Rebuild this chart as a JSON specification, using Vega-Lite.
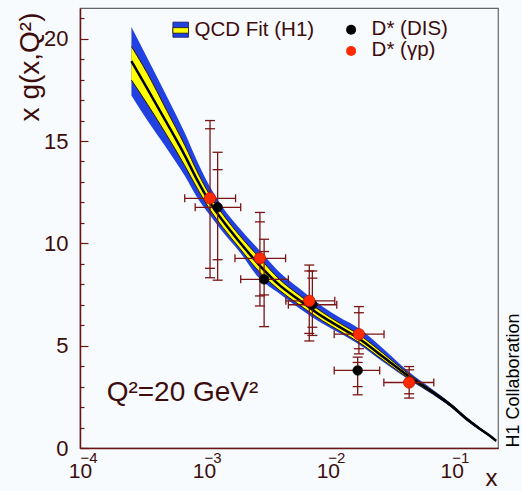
{
  "$schema": "https://vega.github.io/schema/vega-lite/v6.json",
  "width": 418,
  "height": 440,
  "autosize": {"type": "none"},
  "padding": {"left": 80, "top": 8, "right": 24, "bottom": 43},
  "background": "#f7fbfe",
  "config": {"view": {"stroke": "#666666", "strokeWidth": 1.2}, "font": "Liberation Sans"},
  "datasets": {
    "band": [
      {"x": 0.00026, "c": 18.9, "ylo": 17.98, "yhi": 19.62, "blo": 17.23, "bhi": 20.57},
      {"x": 0.00035, "c": 17.55, "ylo": 16.8, "yhi": 18.3, "blo": 16.0, "bhi": 19.05},
      {"x": 0.0005, "c": 15.9, "ylo": 15.3, "yhi": 16.5, "blo": 14.65, "bhi": 17.2},
      {"x": 0.0007, "c": 14.3, "ylo": 13.8, "yhi": 14.8, "blo": 13.3, "bhi": 15.4},
      {"x": 0.0009, "c": 13.0, "ylo": 12.6, "yhi": 13.4, "blo": 12.15, "bhi": 13.9},
      {"x": 0.00111, "c": 12.03, "ylo": 11.68, "yhi": 12.38, "blo": 11.4, "bhi": 12.8},
      {"x": 0.00142, "c": 11.1, "ylo": 10.78, "yhi": 11.42, "blo": 10.55, "bhi": 11.75},
      {"x": 0.00193, "c": 10.08, "ylo": 9.78, "yhi": 10.4, "blo": 9.6, "bhi": 10.75},
      {"x": 0.0028, "c": 8.94, "ylo": 8.61, "yhi": 9.3, "blo": 8.29, "bhi": 9.67},
      {"x": 0.00405, "c": 7.97, "ylo": 7.72, "yhi": 8.25, "blo": 7.55, "bhi": 8.6},
      {"x": 0.00587, "c": 7.23, "ylo": 7.0, "yhi": 7.47, "blo": 6.83, "bhi": 7.8},
      {"x": 0.00904, "c": 6.42, "ylo": 6.22, "yhi": 6.63, "blo": 6.08, "bhi": 6.92},
      {"x": 0.0123, "c": 5.93, "ylo": 5.74, "yhi": 6.12, "blo": 5.63, "bhi": 6.4},
      {"x": 0.018, "c": 5.33, "ylo": 5.14, "yhi": 5.52, "blo": 5.05, "bhi": 5.83},
      {"x": 0.028, "c": 4.45, "ylo": 4.29, "yhi": 4.62, "blo": 4.2, "bhi": 4.85},
      {"x": 0.045, "c": 3.5, "ylo": 3.39, "yhi": 3.61, "blo": 3.33, "bhi": 3.72},
      {"x": 0.07, "c": 2.73, "ylo": 2.66, "yhi": 2.8, "blo": 2.61, "bhi": 2.86},
      {"x": 0.1, "c": 2.05, "ylo": 1.99, "yhi": 2.11, "blo": 1.95, "bhi": 2.15},
      {"x": 0.13, "c": 1.45, "ylo": 1.4, "yhi": 1.5, "blo": 1.36, "bhi": 1.54},
      {"x": 0.17, "c": 0.92, "ylo": 0.88, "yhi": 0.96, "blo": 0.85, "bhi": 0.99},
      {"x": 0.2, "c": 0.62, "ylo": 0.59, "yhi": 0.65, "blo": 0.56, "bhi": 0.68},
      {"x": 0.228, "c": 0.35, "ylo": 0.32, "yhi": 0.38, "blo": 0.3, "bhi": 0.4}
    ],
    "pts": [
      {"s": "gp", "x": 0.00112, "y": 12.2, "xlo": 0.0007, "xhi": 0.0018, "tlo": 8.32, "thi": 16.0, "slo": 8.78, "shi": 15.6},
      {"s": "dis", "x": 0.00129, "y": 11.76, "xlo": 0.00085, "xhi": 0.00198, "tlo": 8.2, "thi": 14.45, "slo": 9.2, "shi": 13.6},
      {"s": "gp", "x": 0.00283, "y": 9.27, "xlo": 0.00178, "xhi": 0.00456, "tlo": 6.94, "thi": 11.51, "slo": 7.43, "shi": 11.05},
      {"s": "dis", "x": 0.00306, "y": 8.24, "xlo": 0.00198, "xhi": 0.0048, "tlo": 5.93, "thi": 10.2, "slo": 7.48, "shi": 9.6},
      {"s": "dis", "x": 0.0075, "y": 7.0, "xlo": 0.0048, "xhi": 0.0118, "tlo": 5.5, "thi": 8.65, "slo": 5.9, "shi": 8.3},
      {"s": "gp", "x": 0.00708, "y": 7.19, "xlo": 0.00458, "xhi": 0.01137, "tlo": 5.23, "thi": 8.94, "slo": 5.6, "shi": 8.65},
      {"s": "dis", "x": 0.0174, "y": 3.79, "xlo": 0.01125, "xhi": 0.0262, "tlo": 2.6, "thi": 4.44, "slo": 3.0, "shi": 4.18},
      {"s": "gp", "x": 0.0178, "y": 5.56, "xlo": 0.01125, "xhi": 0.0284, "tlo": 4.6, "thi": 6.91, "slo": 4.85, "shi": 6.61},
      {"s": "gp", "x": 0.0453, "y": 3.2, "xlo": 0.0283, "xhi": 0.0716, "tlo": 2.44, "thi": 3.98, "slo": 2.65, "shi": 3.82}
    ],
    "legbox": [
      {"part": "blue", "x": 0.000562, "x2": 0.000751, "y": 20.07, "y2": 20.81},
      {"part": "yellow", "x": 0.000562, "x2": 0.000751, "y": 20.27, "y2": 20.54}
    ],
    "legpt": [
      {"s": "dis", "x": 0.0154, "y": 20.44},
      {"s": "gp", "x": 0.0154, "y": 19.4}
    ],
    "legtxt": [
      {"x": 0.00084, "y": 20.43, "t": "QCD Fit (H1)"},
      {"x": 0.02254, "y": 20.48, "t": "D* (DIS)"},
      {"x": 0.02254, "y": 19.45, "t": "D* (γp)"}
    ],
    "qtxt": [
      {"x": 0.000164, "y": 2.7, "t": "Q²=20 GeV²"}
    ]
  },
  "resolve": {"axis": {"x": "independent", "y": "independent"}},
  "layer": [
    {
      "data": {"name": "band"},
      "mark": {"type": "area", "color": "#2142e0", "interpolate": "monotone"},
      "encoding": {
        "x": {"field": "x", "type": "quantitative",
          "scale": {"type": "log", "domain": [0.0001, 0.236], "nice": false},
          "axis": {"orient": "bottom", "values": [0.0001, 0.001, 0.01, 0.1], "labelExpr": "'10'",
            "ticks": false, "grid": false, "labelFontSize": 21, "labelColor": "#3d0c0c", "labelPadding": 12,
            "labelBaseline": "top", "labelAlign": "center", "labelFlush": false, "labelOverlap": false,
            "domainColor": "#6b1515", "domainWidth": 1.5,
            "title": "x", "titleFontSize": 24, "titleFontWeight": "normal", "titleColor": "#3d0c0c",
            "titleX": 411, "titleY": 37, "titleAlign": "center", "titleBaseline": "alphabetic"}},
        "y": {"field": "blo", "type": "quantitative",
          "scale": {"domain": [0, 21.5], "nice": false, "zero": false},
          "axis": {"orient": "left", "values": [0, 5, 10, 15, 20], "tickSize": -8, "tickColor": "#6b1515", "tickWidth": 1.2,
            "grid": false, "labelFontSize": 22, "labelColor": "#3d0c0c", "labelPadding": 20, "labelFlush": false,
            "domainColor": "#6b1515", "domainWidth": 1.5,
            "title": "x g(x,Q²)", "titleFontSize": 28, "titleFontWeight": "normal", "titleColor": "#3d0c0c",
            "titleAngle": 270, "titleAlign": "right", "titleBaseline": "alphabetic", "titleX": -42, "titleY": 4}},
        "y2": {"field": "bhi"}
      }
    },
    {
      "data": {"name": "band"},
      "mark": {"type": "area", "color": "#ffff00", "interpolate": "monotone"},
      "encoding": {
        "x": {"field": "x", "type": "quantitative",
          "axis": {"orient": "bottom", "values": [0.0001, 0.001, 0.01, 0.1],
            "labelExpr": "datum.value < 0.0005 ? '−4' : datum.value < 0.005 ? '−3' : datum.value < 0.05 ? '−2' : '−1'",
            "ticks": false, "domain": false, "grid": false, "labelFontSize": 15, "labelColor": "#3d0c0c",
            "labelAlign": "left", "labelDx": 14, "labelPadding": 2, "labelBaseline": "top", "labelFlush": false,
            "labelOverlap": false, "title": null}},
        "y": {"field": "ylo", "type": "quantitative",
          "axis": {"orient": "left", "values": [1, 2, 3, 4, 6, 7, 8, 9, 11, 12, 13, 14, 16, 17, 18, 19, 21],
            "tickSize": -4, "tickColor": "#6b1515", "tickWidth": 1.2, "labels": false, "domain": false,
            "grid": false, "title": null}},
        "y2": {"field": "yhi"}
      }
    },
    {
      "data": {"name": "band"},
      "mark": {"type": "line", "color": "#2a1410", "strokeWidth": 1, "interpolate": "monotone"},
      "encoding": {
        "x": {"field": "x", "type": "quantitative", "axis": null},
        "y": {"field": "ylo", "type": "quantitative", "axis": null}
      }
    },
    {
      "data": {"name": "band"},
      "mark": {"type": "line", "color": "#2a1410", "strokeWidth": 1, "interpolate": "monotone"},
      "encoding": {
        "x": {"field": "x", "type": "quantitative", "axis": null},
        "y": {"field": "yhi", "type": "quantitative", "axis": null}
      }
    },
    {
      "data": {"name": "band"},
      "mark": {"type": "line", "color": "#000000", "strokeWidth": 2.5, "interpolate": "monotone"},
      "encoding": {
        "x": {"field": "x", "type": "quantitative", "axis": null},
        "y": {"field": "c", "type": "quantitative",
          "axis": {"orient": "right", "ticks": false, "labels": false, "domain": false, "grid": false,
            "title": "H1 Collaboration", "titleFontSize": 18, "titleFontWeight": "normal", "titleColor": "#000000",
            "titleAngle": 270, "titleAlign": "left", "titleBaseline": "alphabetic", "titleX": 20, "titleY": 439}}
      }
    },
    {
      "data": {"name": "pts"},
      "mark": {"type": "rule", "color": "#7b1515", "strokeWidth": 1.3},
      "encoding": {
        "x": {"field": "x", "type": "quantitative", "axis": null},
        "y": {"field": "tlo", "type": "quantitative", "axis": null},
        "y2": {"field": "thi"}
      }
    },
    {
      "data": {"name": "pts"},
      "mark": {"type": "rule", "color": "#7b1515", "strokeWidth": 1.3},
      "encoding": {
        "x": {"field": "xlo", "type": "quantitative", "axis": null},
        "x2": {"field": "xhi"},
        "y": {"field": "y", "type": "quantitative", "axis": null}
      }
    },
    {
      "data": {"name": "pts"},
      "transform": [{"fold": ["tlo", "thi", "slo", "shi"], "as": ["k", "v"]}],
      "mark": {"type": "tick", "orient": "horizontal", "color": "#7b1515", "thickness": 1.3, "size": 10, "opacity": 1},
      "encoding": {
        "x": {"field": "x", "type": "quantitative", "axis": null},
        "y": {"field": "v", "type": "quantitative", "axis": null}
      }
    },
    {
      "data": {"name": "pts"},
      "transform": [{"fold": ["xlo", "xhi"], "as": ["k", "v"]}],
      "mark": {"type": "tick", "orient": "vertical", "color": "#7b1515", "thickness": 1.3, "size": 8, "opacity": 1},
      "encoding": {
        "x": {"field": "v", "type": "quantitative", "axis": null},
        "y": {"field": "y", "type": "quantitative", "axis": null}
      }
    },
    {
      "data": {"name": "pts"},
      "mark": {"type": "point", "shape": "circle", "filled": true, "opacity": 1, "strokeWidth": 0.8},
      "encoding": {
        "x": {"field": "x", "type": "quantitative", "axis": null},
        "y": {"field": "y", "type": "quantitative", "axis": null},
        "color": {"field": "s", "type": "nominal", "scale": {"domain": ["dis", "gp"], "range": ["#000000", "#ff2a00"]}, "legend": null},
        "stroke": {"field": "s", "type": "nominal", "scale": {"domain": ["dis", "gp"], "range": ["#000000", "#c01500"]}, "legend": null},
        "size": {"field": "s", "type": "nominal", "scale": {"domain": ["dis", "gp"], "range": [90, 130]}, "legend": null}
      }
    },
    {
      "data": {"name": "legbox"},
      "transform": [{"filter": "datum.part == 'blue'"}],
      "mark": {"type": "rect", "color": "#2142e0", "stroke": "#1a1a60", "strokeWidth": 0.8},
      "encoding": {
        "x": {"field": "x", "type": "quantitative", "axis": null},
        "x2": {"field": "x2"},
        "y": {"field": "y", "type": "quantitative", "axis": null},
        "y2": {"field": "y2"}
      }
    },
    {
      "data": {"name": "legbox"},
      "transform": [{"filter": "datum.part == 'yellow'"}],
      "mark": {"type": "rect", "color": "#ffff00", "stroke": "#1a1010", "strokeWidth": 0.8},
      "encoding": {
        "x": {"field": "x", "type": "quantitative", "axis": null},
        "x2": {"field": "x2"},
        "y": {"field": "y", "type": "quantitative", "axis": null},
        "y2": {"field": "y2"}
      }
    },
    {
      "data": {"name": "legpt"},
      "mark": {"type": "point", "shape": "circle", "filled": true, "opacity": 1, "size": 100},
      "encoding": {
        "x": {"field": "x", "type": "quantitative", "axis": null},
        "y": {"field": "y", "type": "quantitative", "axis": null},
        "color": {"field": "s", "type": "nominal", "scale": {"domain": ["dis", "gp"], "range": ["#000000", "#ff2a00"]}, "legend": null}
      }
    },
    {
      "data": {"name": "legtxt"},
      "mark": {"type": "text", "align": "left", "baseline": "middle", "fontSize": 20.5, "color": "#3d0c0c", "font": "Liberation Sans"},
      "encoding": {
        "x": {"field": "x", "type": "quantitative", "axis": null},
        "y": {"field": "y", "type": "quantitative", "axis": null},
        "text": {"field": "t"}
      }
    },
    {
      "data": {"name": "qtxt"},
      "mark": {"type": "text", "align": "left", "baseline": "middle", "fontSize": 28, "color": "#3d0c0c", "font": "Liberation Sans"},
      "encoding": {
        "x": {"field": "x", "type": "quantitative", "axis": null},
        "y": {"field": "y", "type": "quantitative", "axis": null},
        "text": {"field": "t"}
      }
    }
  ]
}
